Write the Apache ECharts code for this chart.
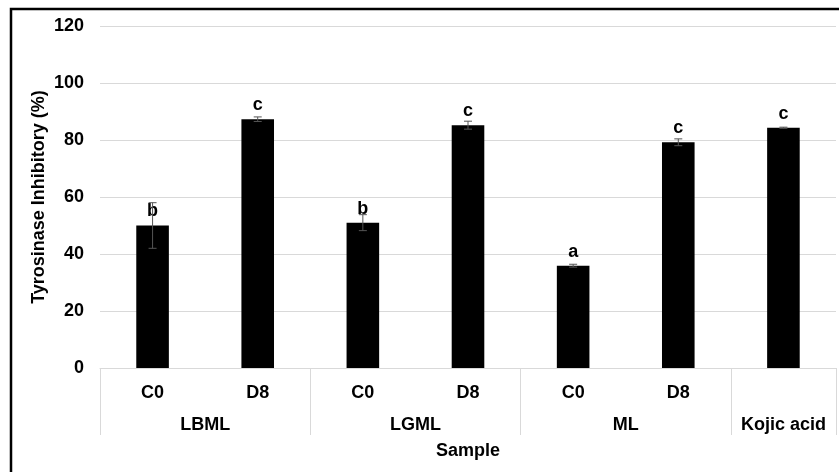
<!DOCTYPE html>
<html>
<head>
<meta charset="utf-8">
<script src="https://cdn.jsdelivr.net/npm/echarts@6/dist/echarts.min.js"></script>
<style>html,body{margin:0;padding:0;background:#fff;}#c{width:839px;height:472px;}</style>
</head>
<body>
<div id="c"></div>
<script>
var categories = ['C0', 'D8', 'C0', 'D8', 'C0', 'D8', ''];
var groupLabels = ['', '', 'LBML', '', '', '', 'LGML', '', '', '', 'ML', '', '', 'Kojic acid', ''];
var groupSeparators = [0, 4, 8, 12, 14];
var values = [50, 87.3, 51, 85.2, 35.9, 79.2, 84.3];
var errors = [8, 0.8, 2.8, 1.4, 0.5, 1.2, 0.2];
var letters = ['b', 'c', 'b', 'c', 'a', 'c', 'c'];
var yTicks = [0, 20, 40, 60, 80, 100, 120];

var FONT = '"Liberation Sans", Arial, sans-serif';
var chart = echarts.init(document.getElementById('c'));
var errData = values.map(function (v, i) { return [i, v - errors[i], v + errors[i]]; });

chart.setOption({
  animation: false,
  textStyle: { fontFamily: FONT },
  graphic: [{
    type: 'rect', shape: { x: 11, y: 9, width: 900, height: 600 },
    style: { fill: 'none', stroke: '#000', lineWidth: 2.5 }, z: 100
  }],
  grid: { left: 100, right: 2, top: 26, bottom: 104 },
  xAxis: [{
    type: 'category', data: categories, boundaryGap: true,
    axisLine: { lineStyle: { color: '#d9d9d9', width: 1 } },
    axisTick: { show: false },
    axisLabel: { interval: 0, margin: 16, color: '#000', fontWeight: 'bold', fontSize: 18, fontFamily: FONT }
  }, {
    type: 'category', data: groupLabels, boundaryGap: false, position: 'bottom',
    axisLine: { show: false },
    axisTick: {
      show: true, length: 67,
      interval: function (i) { return groupSeparators.indexOf(i) >= 0; },
      lineStyle: { color: '#d9d9d9', width: 1 }
    },
    axisLabel: { interval: 0, margin: 48, color: '#000', fontWeight: 'bold', fontSize: 18, fontFamily: FONT },
    name: 'Sample', nameLocation: 'middle', nameGap: 74, nameMoveOverlap: false,
    nameTextStyle: { color: '#000', fontWeight: 'bold', fontSize: 18, fontFamily: FONT }
  }],
  yAxis: {
    type: 'value', min: yTicks[0], max: yTicks[yTicks.length - 1], interval: 20,
    axisLine: { show: false }, axisTick: { show: false },
    splitLine: { lineStyle: { color: '#d9d9d9', width: 1 } },
    axisLabel: { margin: 16, color: '#000', fontWeight: 'bold', fontSize: 18, fontFamily: FONT },
    name: 'Tyrosinase Inhibitory (%)', nameLocation: 'middle', nameGap: 52, nameRotate: 90, nameMoveOverlap: false,
    nameTextStyle: { color: '#000', fontWeight: 'bold', fontSize: 18, fontFamily: FONT }
  },
  series: [{
    type: 'bar', data: values, barWidth: '31%',
    itemStyle: { color: '#000' },
    label: {
      show: true, position: 'top', distance: 5, color: '#000', fontWeight: 'bold', fontSize: 18, fontFamily: FONT,
      formatter: function (p) { return letters[p.dataIndex]; }
    },
    z: 2
  }, {
    type: 'custom', data: errData, z: 3,
    renderItem: function (params, api) {
      var x = api.value(0);
      var lo = api.coord([x, api.value(1)]);
      var hi = api.coord([x, api.value(2)]);
      var cw = 4;
      var st = { stroke: '#555', lineWidth: 1 };
      return {
        type: 'group', children: [
          { type: 'line', shape: { x1: lo[0], y1: lo[1], x2: hi[0], y2: hi[1] }, style: st },
          { type: 'line', shape: { x1: lo[0] - cw, y1: lo[1], x2: lo[0] + cw, y2: lo[1] }, style: st },
          { type: 'line', shape: { x1: hi[0] - cw, y1: hi[1], x2: hi[0] + cw, y2: hi[1] }, style: st }
        ]
      };
    }
  }]
});
</script>
</body>
</html>
